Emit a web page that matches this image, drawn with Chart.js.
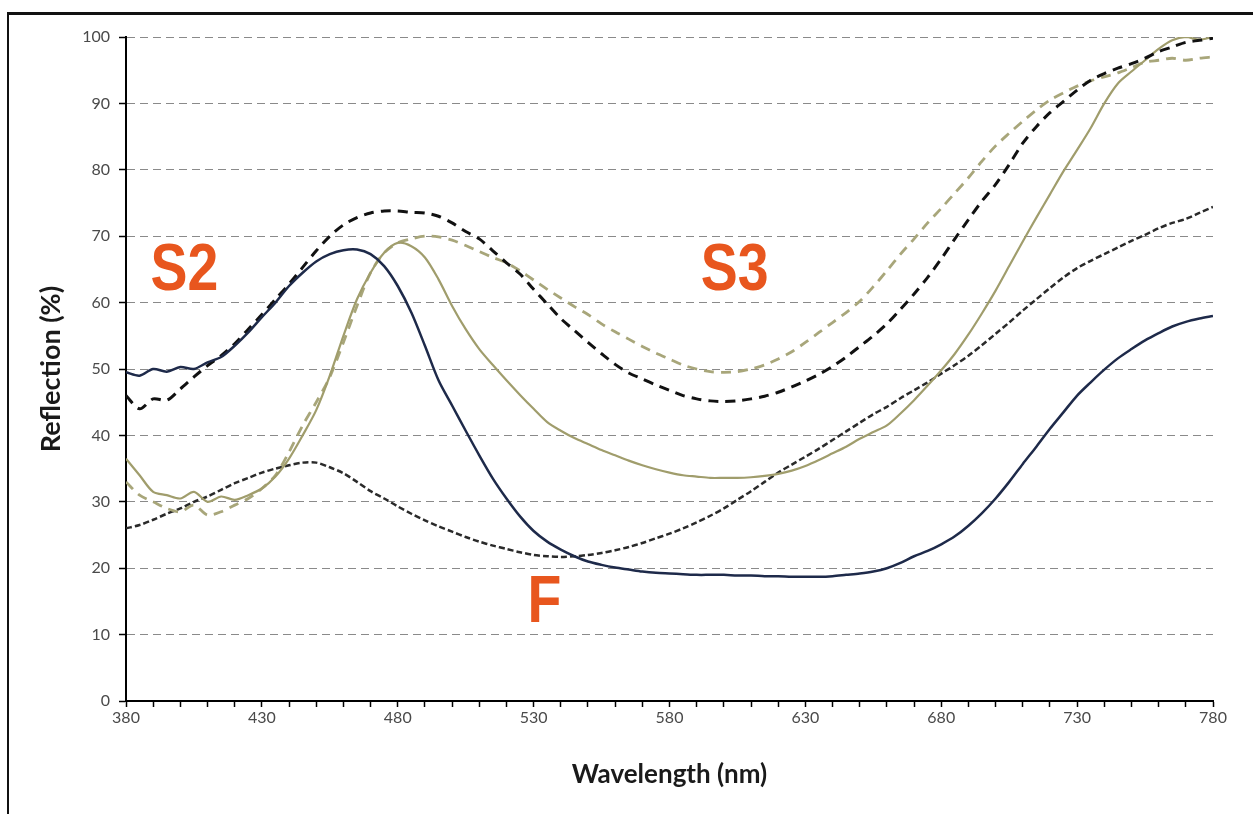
<!DOCTYPE html>
<html lang="en">

<head>
    <meta charset="UTF-8">
    <title>Reflection spectra</title>
    <script src="https://cdn.jsdelivr.net/npm/chart.js"></script>
    <style>
        html, body { margin: 0; padding: 0; background: #fff; overflow: hidden; }
        canvas { display: block; }
    </style>
</head>

<body>
    <canvas id="myChart" width="1253" height="814"></canvas>

    <script>
        // wavelength grid, 5 nm steps (380 - 780)
        const wavelengths = [];
        for (let w = 380; w <= 780; w += 5) wavelengths.push(w);

        const yTicks = [0, 10, 20, 30, 40, 50, 60, 70, 80, 90, 100];
        const xLabels = [380, 430, 480, 530, 580, 630, 680, 730, 780];

        // S2 - solid navy
        const s2Solid = [
            49.5, 49.0, 50.0, 49.6, 50.3, 50.0, 51.0, 51.8, 53.5, 55.5,
            57.8, 60.0, 62.5, 64.5, 66.2, 67.3, 67.9, 68.0, 67.3, 65.5,
            62.5, 58.5, 53.5, 48.3, 44.5, 40.7, 37.0, 33.5, 30.5, 27.8,
            25.6, 24.0, 22.8, 21.8, 21.0, 20.5, 20.1, 19.8, 19.5, 19.3,
            19.2, 19.1, 19.0, 19.0, 19.0, 18.9, 18.9, 18.8, 18.8, 18.7,
            18.7, 18.7, 18.8, 19.0, 19.2, 19.5, 20.0, 20.8, 21.8, 22.6,
            23.6, 24.8, 26.4, 28.3, 30.5, 33.0, 35.7, 38.3, 41.0, 43.5,
            46.0, 48.0, 49.9, 51.6, 53.0, 54.3, 55.4, 56.4, 57.1, 57.6, 58.0
        ];
        // S2 - dashed black
        const s2Dashed = [
            46.0, 44.0, 45.5, 45.3, 47.0, 48.8, 50.5, 52.0, 53.8, 56.0,
            58.2, 60.5, 62.8, 65.3, 67.8, 70.0, 71.7, 72.8, 73.5, 73.8,
            73.8, 73.6, 73.5, 73.0, 72.0, 70.7, 69.6, 67.8, 66.0, 64.3,
            62.0, 59.8, 57.6, 55.8, 54.0, 52.3, 50.7, 49.4, 48.5, 47.6,
            46.8, 46.0, 45.5, 45.2, 45.1, 45.2, 45.5, 45.9, 46.5, 47.3,
            48.2, 49.2, 50.4, 51.8, 53.4, 55.0, 56.8, 59.0, 61.3, 63.8,
            66.6, 69.6, 72.5, 75.3, 77.8, 80.8, 84.0, 86.5, 88.6, 90.3,
            92.0, 93.5, 94.5, 95.3, 96.0, 96.8, 97.8, 98.5, 99.2, 99.5, 99.8
        ];
        // S3 - solid olive
        const s3Solid = [
            36.5, 34.0, 31.5, 31.0, 30.5, 31.5, 30.0, 30.8, 30.3, 31.0,
            32.0, 33.8, 36.5, 40.0, 43.8, 49.0, 55.0, 60.5, 64.5, 67.5,
            69.0, 68.5, 66.8, 63.5, 59.5, 56.0, 53.0, 50.6, 48.3, 46.1,
            44.0, 42.0, 40.7, 39.6, 38.7, 37.8, 37.0, 36.2, 35.5, 34.9,
            34.4, 34.0, 33.8, 33.6, 33.6, 33.6, 33.7, 33.9, 34.2, 34.7,
            35.4, 36.3, 37.3, 38.3, 39.5, 40.5, 41.5, 43.3, 45.3, 47.5,
            49.8, 52.3, 55.2, 58.4, 61.8, 65.5, 69.2, 72.8, 76.3, 79.8,
            83.0, 86.3, 90.0, 93.0, 94.8, 96.5, 98.2, 99.5, 100, 99.6, 100
        ];
        // S3 - dashed olive
        const s3Dashed = [
            33.0, 31.0, 30.0, 29.0, 28.5, 29.5, 28.0, 28.5, 29.5, 30.5,
            32.0, 34.0, 37.5, 41.5, 45.0, 48.8, 54.0, 59.5, 64.5, 67.5,
            69.0, 69.6, 70.0, 69.9, 69.4, 68.6, 67.7, 66.8, 66.0, 64.8,
            63.4, 62.0, 60.7, 59.4, 58.2, 56.8, 55.6, 54.5, 53.4, 52.4,
            51.5, 50.6, 50.0, 49.6, 49.5, 49.6, 50.0, 50.6, 51.5, 52.6,
            54.0, 55.5, 57.0, 58.5, 60.2, 62.4, 64.8, 67.3, 69.6, 72.0,
            74.2, 76.5, 78.8, 81.3, 83.6, 85.5, 87.3, 89.0, 90.5, 91.6,
            92.6, 93.4, 94.0, 94.6, 95.4, 96.2, 96.5, 96.8, 96.5, 96.8, 97.0
        ];
        // F - short dashed black
        const fDashed = [
            26.0, 26.5, 27.3, 28.2, 29.0, 30.0, 30.8, 31.8, 32.8, 33.6,
            34.4, 35.0, 35.5, 35.9, 35.9, 35.2, 34.3, 33.0, 31.6, 30.5,
            29.3, 28.2, 27.2, 26.3, 25.5, 24.7, 24.0, 23.4, 22.9, 22.4,
            22.0, 21.8, 21.7, 21.8, 22.0, 22.3, 22.7, 23.2, 23.8, 24.5,
            25.2, 26.0, 26.9, 27.9, 29.0, 30.3, 31.6, 33.0, 34.4, 35.6,
            36.8, 38.0, 39.3, 40.6, 41.9, 43.2, 44.3, 45.6, 46.8, 48.0,
            49.3, 50.6, 52.0, 53.6, 55.3, 57.0, 58.8, 60.5, 62.2, 63.8,
            65.2, 66.3, 67.3, 68.3, 69.3, 70.2, 71.2, 72.0, 72.6, 73.5, 74.4
        ];

        // orange labels: text, wavelength, reflection
        const labelTexts = ['S2', 'S3', 'F'];
        const labelX = [401.5, 604, 534];
        const labelY = [64.6, 64.6, 14.6];

        const toPoints = vals => vals.map((v, i) => ({ x: wavelengths[i], y: v }));

        const labelPlugin = {
            id: 'orangeLabels',
            beforeDraw(chart) {
                // white page + frame on top and left
                const c = chart.ctx;
                c.save();
                c.fillStyle = '#fff';
                c.fillRect(0, 0, chart.width, chart.height);
                c.fillStyle = '#111';
                c.fillRect(7, 12, chart.width - 7, 3);
                c.fillRect(7, 12, 2, chart.height - 12);
                c.restore();
            },
            afterDatasetsDraw(chart) {
                const { ctx, scales: { x, y } } = chart;
                ctx.save();
                ctx.fillStyle = '#E8561E';
                ctx.font = 'bold 66px "Liberation Sans", Arial, sans-serif';
                ctx.textAlign = 'center';
                ctx.textBaseline = 'middle';
                labelTexts.forEach((t, i) => {
                    ctx.save();
                    ctx.translate(x.getPixelForValue(labelX[i]), y.getPixelForValue(labelY[i]));
                    ctx.scale(0.84, 1);
                    ctx.fillText(t, 0, 0);
                    ctx.restore();
                });
                ctx.restore();
            }
        };

        const ctx = document.getElementById('myChart').getContext('2d');

        const myChart = new Chart(ctx, {
            type: 'line',
            data: {
                datasets: [
                    {
                        label: 'S2',
                        data: toPoints(s2Solid),
                        borderColor: '#1E2A4A',
                        borderWidth: 2.5
                    },
                    {
                        label: 'S2 dashed',
                        data: toPoints(s2Dashed),
                        borderColor: '#111111',
                        borderWidth: 3,
                        borderDash: [10, 7]
                    },
                    {
                        label: 'S3',
                        data: toPoints(s3Solid),
                        borderColor: '#A09D6C',
                        borderWidth: 2.2
                    },
                    {
                        label: 'S3 dashed',
                        data: toPoints(s3Dashed),
                        borderColor: '#A8A67A',
                        borderWidth: 2.8,
                        borderDash: [10, 7]
                    },
                    {
                        label: 'F',
                        data: toPoints(fDashed),
                        borderColor: '#2A2A2A',
                        borderWidth: 2.5,
                        borderDash: [6, 3]
                    }
                ]
            },
            options: {
                responsive: false,
                animation: false,
                elements: {
                    point: { radius: 0 },
                    line: { tension: 0.3, fill: false }
                },
                layout: { padding: { left: 0, top: 37, right: 40, bottom: 0 } },
                scales: {
                    x: {
                        type: 'linear',
                        min: 380,
                        max: 780,
                        afterFit: s => { s.height = 113; },
                        grid: {
                            drawOnChartArea: false,
                            tickColor: '#000',
                            tickLength: 6,
                            tickWidth: 1.5
                        },
                        border: { color: '#000', width: 2 },
                        ticks: {
                            stepSize: 10,
                            autoSkip: false,
                            maxRotation: 0,
                            padding: 1,
                            color: '#4a4a4a',
                            font: { family: 'Lato, "Open Sans", sans-serif', size: 16 },
                            callback: v => xLabels.includes(v) ? String(v) : ''
                        },
                        title: {
                            display: true,
                            text: 'Wavelength (nm)',
                            color: '#1a1a1a',
                            font: { family: 'Lato, "Open Sans", sans-serif', size: 26, weight: 'bold' },
                            padding: { top: 0, bottom: 24 }
                        }
                    },
                    y: {
                        min: 0,
                        max: 100,
                        afterFit: s => { s.width = 126; },
                        grid: {
                            color: '#8a8a8a',
                            lineWidth: 1,
                            tickColor: '#000',
                            tickLength: 7,
                            tickWidth: 1.5
                        },
                        border: { color: '#000', width: 2, dash: [8, 5] },
                        ticks: {
                            stepSize: 10,
                            padding: 9,
                            color: '#4a4a4a',
                            font: { family: 'Lato, "Open Sans", sans-serif', size: 16 },
                            callback: v => yTicks.includes(v) ? String(v) : ''
                        },
                        title: {
                            display: true,
                            text: 'Reflection (%)',
                            color: '#1a1a1a',
                            font: { family: 'Lato, "Open Sans", sans-serif', size: 27, weight: 'bold' },
                            padding: { top: 35, bottom: 0 }
                        }
                    }
                },
                plugins: {
                    legend: { display: false },
                    tooltip: { enabled: false }
                }
            },
            plugins: [labelPlugin]
        });
    </script>
</body>

</html>
